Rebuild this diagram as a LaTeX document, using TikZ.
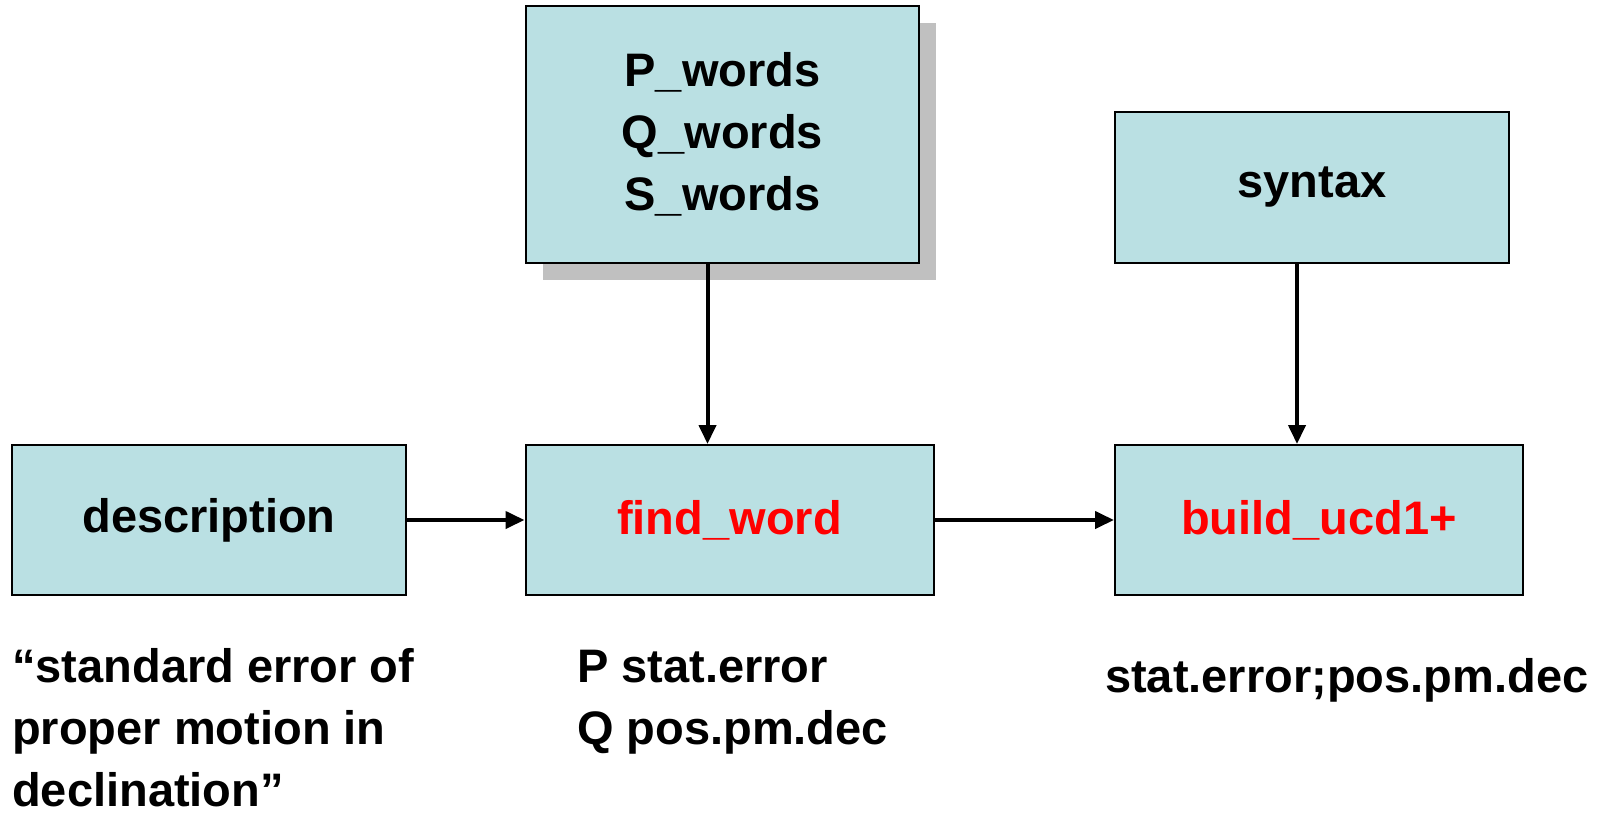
\documentclass[tikz,border=0pt]{standalone}
\usepackage{fontspec}
\setmainfont{Liberation Sans}
\usepackage{xcolor}
\usetikzlibrary{positioning,arrows.meta,shadows}

\definecolor{boxblue}{RGB}{186,224,227}
\definecolor{shadowgray}{RGB}{192,192,192}
\definecolor{namered}{RGB}{255,0,0}

\tikzset{
  box/.style={draw, line width=2pt, fill=boxblue, minimum height=150pt,
    align=center, inner sep=0pt, font=\bfseries\fontsize{47}{62}\selectfont},
  note/.style={anchor=base west, align=left, inner sep=0pt,
    font=\bfseries\fontsize{47}{62}\selectfont},
  flow/.style={line width=4pt, -{Triangle[length=19pt,width=17pt]}}
}

\begin{document}
\begin{tikzpicture}[x=1pt,y=-1pt]
      \useasboundingbox (0,0) rectangle (1612,814);
      % top row
      \node[box, minimum width=393pt, minimum height=257pt,
            drop shadow={shadow xshift=17pt, shadow yshift=-17pt, fill=shadowgray, opacity=1}]
            (words) at (722.5,134.5) {P\_words\\Q\_words\\S\_words};
      \node[box, minimum width=394pt, minimum height=151pt] (syntax) at (1312,187.5) {syntax};
      % middle row
      \node[box, minimum width=394pt] (descr) at (209,520) {description};
      \node[box, minimum width=408pt, text=namered] (findword) at (729.5,520) {find\_word};
      \node[box, minimum width=408pt, text=namered] (build) at (1319,520) {build\_ucd1+};
      % notes below (base = last line)
      \node[note] (phrase) at (12,806) {“standard error of\\proper motion in\\declination”};
      \node[note] (pq) at (577,744) {P stat.error\\Q pos.pm.dec};
      \node[note] (ucd) at (1105,692) {stat.error;pos.pm.dec};
      % connectors
      \draw[flow] ([xshift=-15pt]words.south) -- ([xshift=-15pt]words.south |- findword.north);
      \draw[flow] ([xshift=-15pt]syntax.south) -- ([xshift=-15pt]syntax.south |- build.north);
      \draw[flow] (descr.east) -- (findword.west);
      \draw[flow] (findword.east) -- (build.west);
\end{tikzpicture}
\end{document}
